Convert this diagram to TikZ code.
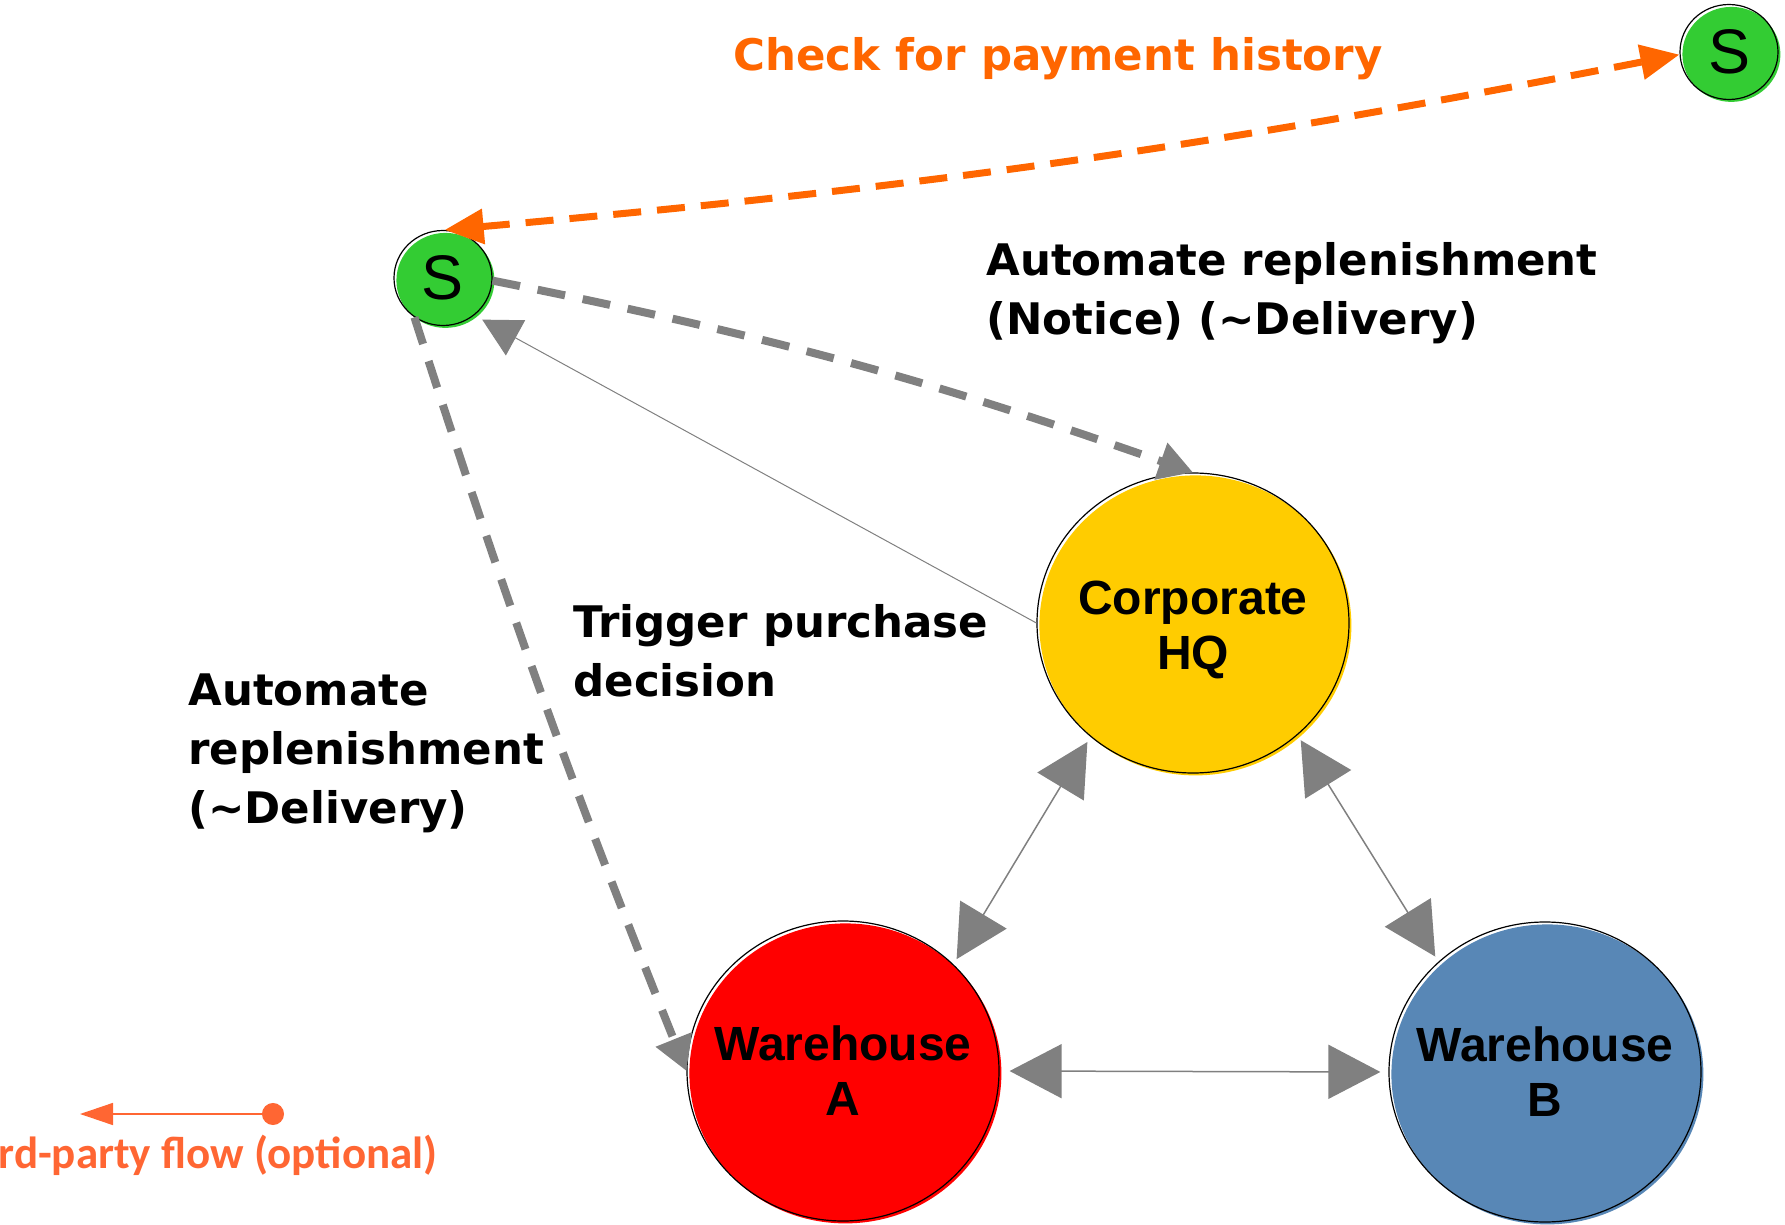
\documentclass[tikz,border=0pt]{standalone}
\usepackage{fontspec}
\usetikzlibrary{arrows.meta,shapes.geometric}
\newfontfamily\labfont{DejaVu Sans}
\newfontfamily\nodefont{Liberation Sans}
\newfontfamily\legfont{Carlito}
\definecolor{sgreen}{RGB}{51,204,51}
\definecolor{hqyellow}{RGB}{255,204,0}
\definecolor{wared}{RGB}{255,0,0}
\definecolor{wbblue}{RGB}{88,135,182}
\definecolor{payorange}{RGB}{255,102,0}
\definecolor{legorange}{RGB}{255,102,51}
\definecolor{linegray}{RGB}{128,128,128}
\tikzset{
  offfill/.style={preaction={fill=#1, transform canvas={xshift=1.2pt,yshift=-1.2pt}}},
  hubtext/.style={inner sep=0pt, align=center, font=\nodefont\bfseries\fontsize{24pt}{27.5pt}\selectfont},
  hub/.style={hubtext, ellipse, draw=black, line width=0.6pt, minimum width=156pt, minimum height=150pt,
    inner xsep=-16pt, inner ysep=0pt, offfill=#1},
  snode/.style={ellipse, draw=black, line width=0.6pt, minimum width=49pt, minimum height=47.5pt,
    inner sep=0pt, font=\nodefont\fontsize{31.5pt}{32pt}\selectfont, offfill=sgreen},
  lab/.style={inner sep=0pt, align=left, font=\labfont\bfseries\fontsize{21.75pt}{29.5pt}\selectfont},
  paylab/.style={inner sep=0pt, text=payorange, font=\labfont\bfseries\fontsize{21.75pt}{29.5pt}\selectfont},
  leglab/.style={inner sep=0pt, text=legorange, font=\legfont\bfseries\fontsize{22.5pt}{26pt}\selectfont},
  bigboth/.style={draw=linegray, line width=0.75pt,
    {Triangle[length=26pt,width=27pt]}-{Triangle[length=26pt,width=27pt]}},
  graydash/.style={draw=linegray, line width=4pt, dash pattern=on 14pt off 9pt,
    -{Triangle[length=17pt,width=18.5pt]}},
  thinarrow/.style={draw=linegray, line width=0.5pt, -{Triangle[length=19pt,width=20pt]}},
  paydash/.style={draw=payorange, line width=3.5pt, dash pattern=on 14pt off 8pt,
    {Triangle[length=19.5pt,width=17pt]}-{Triangle[length=19.5pt,width=17pt]}},
  legarrow/.style={draw=legorange, line width=0.75pt,
    {Circle[length=11pt]}-{Triangle[length=16.5pt,width=11pt]}}
}
\begin{document}
\begin{tikzpicture}[x=0.5pt,y=-0.5pt]
\useasboundingbox (0,0) rectangle (1785,1225);
% nodes
\node[snode] (S1) at (1729,52) {S};
\node[snode] (S2) at (443,278) {S};
\node[hub=hqyellow] (HQ) at (1193,623) {};
\node[hubtext] (HQt) at (1193,630) {Corporate\\HQ};
\node[hub=wared] (WA) at (843,1071) {Warehouse\\A};
\node[hub=wbblue] (WB) at (1545,1072) {Warehouse\\B};
% labels
\node[paylab, anchor=base] (tPay) at (1058,71) {Check for payment history};
\node[lab, anchor=north west] (tAuto1) at (986,242) {Automate replenishment\\(Notice) (\textasciitilde Delivery)};
\node[lab, anchor=north west] (tTrig) at (573,604) {Trigger purchase\\decision};
\node[lab, anchor=north west] (tAuto2) at (188,673) {Automate\\replenishment\\(\textasciitilde Delivery)};
% connectors
\draw[paydash] (S2.88) to[bend right=3] (S1.183);
\draw[graydash] (S2.-3) to[bend left=4] (HQ.north);
\draw[graydash] (S2.234) to[bend right=2] (WA.west);
\draw[thinarrow, shorten >=4.5pt] (HQ.west) -- (S2.310);
\draw[bigboth, shorten <=3pt, shorten >=3pt] (HQ.228) -- (WA.44);
\draw[bigboth, shorten <=3pt, shorten >=3pt] (HQ.313.5) -- (WB.134);
\draw[bigboth, shorten <=5pt, shorten >=4pt] (WA.east) -- (WB.west);
% legend
\coordinate (legS) at (284,1114);
\coordinate (legE) at (80,1114);
\draw[legarrow] (legS) -- (legE);
\node[leglab, anchor=base east] (tLeg) at (438,1168) {rd-party flow (optional)};
\end{tikzpicture}
\end{document}
